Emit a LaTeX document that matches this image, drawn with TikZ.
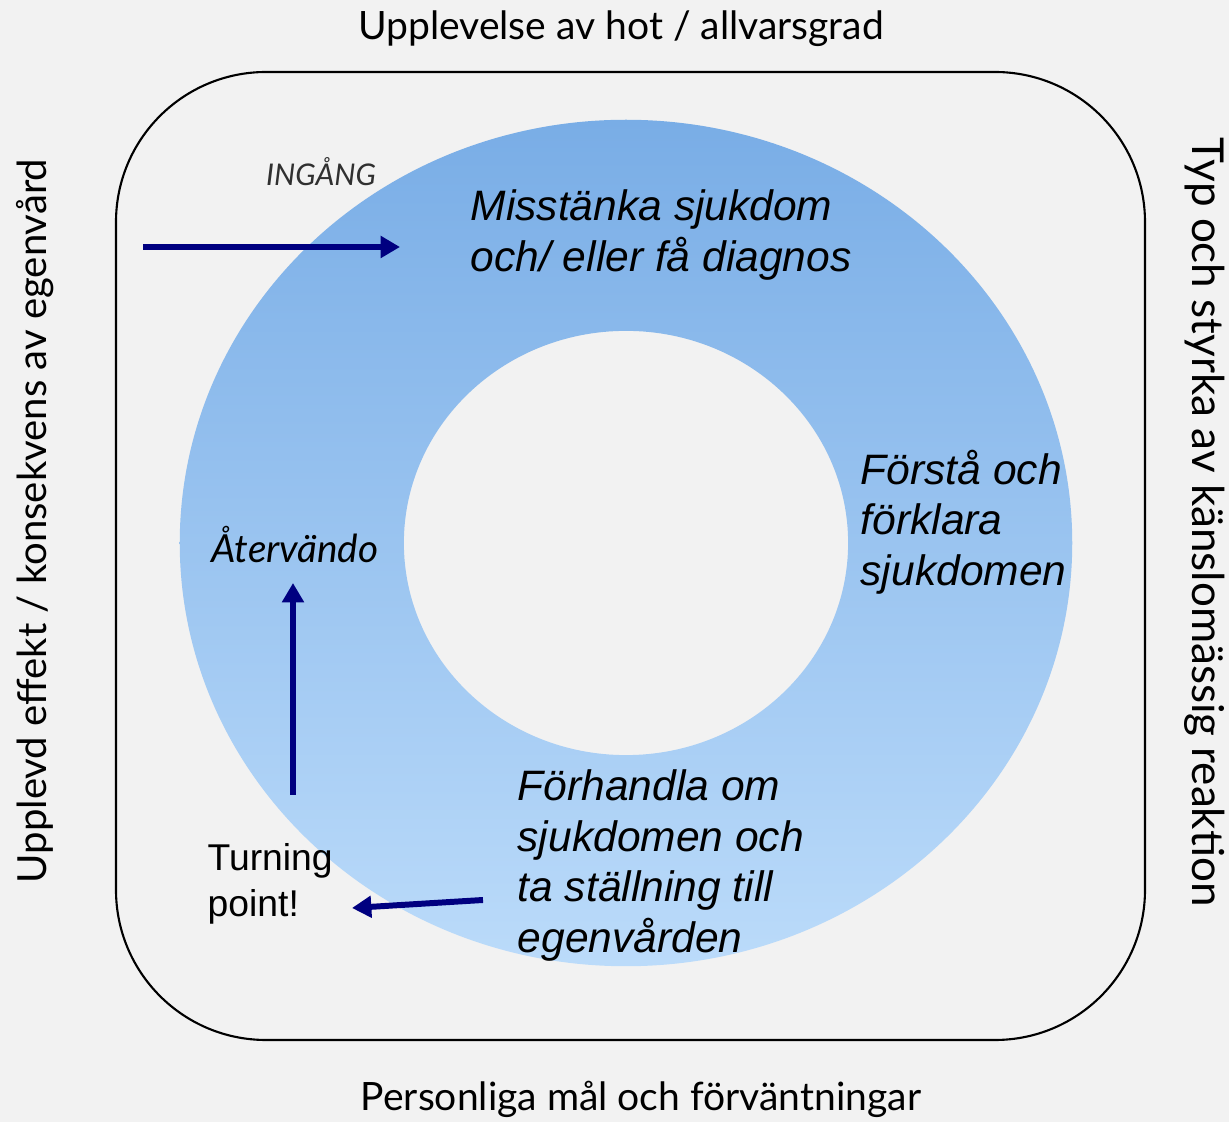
\documentclass[tikz,border=0pt]{standalone}
\usepackage{fontspec}
\setmainfont{Lato}
\newfontfamily\arialf{Liberation Sans}
\usetikzlibrary{arrows.meta}
\definecolor{bgc}{HTML}{F2F2F2}
\definecolor{ringtop}{HTML}{79ADE6}
\definecolor{ringbot}{HTML}{BBDBFA}
\definecolor{navyc}{HTML}{000080}
\definecolor{ingc}{HTML}{303030}
\tikzset{
  axislabel/.style={inner sep=0pt, font=\fontsize{11.1}{13}\selectfont},
  ringtext/.style={inner sep=0pt, anchor=north west, align=left, font=\arialf\itshape\fontsize{12.1}{14.4}\selectfont},
  navyarrow/.style={draw=navyc, line width=1.7pt, -{Triangle[length=5.5pt,width=6pt]}},
}
\begin{document}
\begin{tikzpicture}[x=0.01cm,y=-0.01cm]
\fill[bgc] (0,0) rectangle (1229,1122);
\useasboundingbox (0,0) rectangle (1229,1122);
% ring
\shade[top color=ringtop, bottom color=ringbot, even odd rule]
  (626,543) ellipse [x radius=4.46cm, y radius=4.23cm]
  (626,543) ellipse [x radius=2.22cm, y radius=2.12cm];
% frame
\draw[black, line width=0.6pt, rounded corners=1.5cm] (116,72) rectangle (1145,1040);
% axis labels
\node[axislabel] (top) at (621,29) {Upplevelse av hot / allvarsgrad};
\node[axislabel] (bottom) at (641,1099) {Personliga mål och förväntningar};
\node[axislabel, rotate=90, font=\fontsize{11.4}{13}\selectfont] (left) at (35,521) {Upplevd effekt / konsekvens av egenvård};
\node[axislabel, rotate=-90, font=\fontsize{12.5}{14}\selectfont] (right) at (1205,522) {Typ och styrka av känslomässig reaktion};
% inner labels
\node[inner sep=0pt, text=ingc, font=\itshape\fontsize{8.5}{10}\selectfont] (ing) at (321,172) {INGÅNG};
\node[ringtext] (t1) at (470,189) {Misstänka sjukdom\\och/ eller få diagnos};
\node[ringtext] (t2) at (860,449) {Förstå och\\förklara\\sjukdomen};
\node[ringtext] (t3) at (517,769) {Förhandla om\\sjukdomen och\\ta ställning till\\egenvården};
\node[inner sep=0pt, font=\itshape\fontsize{11}{13}\selectfont] (ret) at (295,545) {Återvändo};
\node[inner sep=0pt, anchor=north west, align=left, font=\arialf\fontsize{10.6}{13}\selectfont] (turn) at (207,843) {Turning\\point!};
% arrows
\coordinate (a1s) at (143,247);
\coordinate (a1e) at (400,247);
\coordinate (a2s) at (293,795);
\coordinate (a2e) at (293,583);
\coordinate (a3s) at (483,900);
\coordinate (a3e) at (352,908);
\draw[navyarrow] (a1s) -- (a1e);
\draw[navyarrow] (a2s) -- (a2e);
\draw[navyarrow] (a3s) -- (a3e);
\end{tikzpicture}
\end{document}
